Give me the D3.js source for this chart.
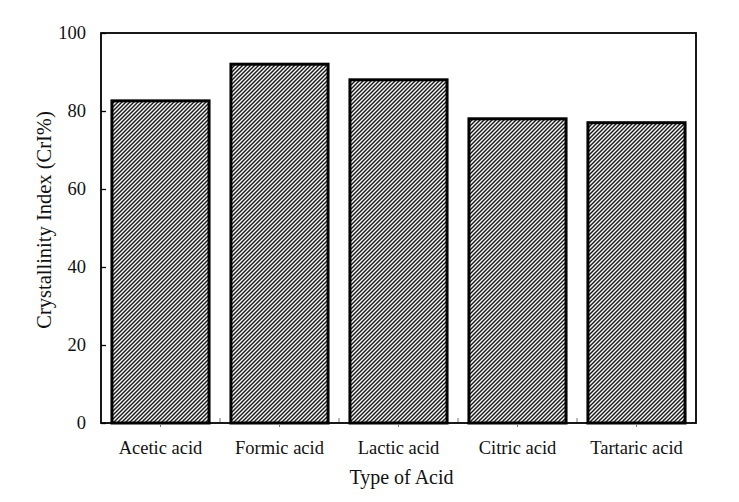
<!DOCTYPE html>
<html>
<head>
<meta charset="utf-8">
<script src="https://cdn.jsdelivr.net/npm/d3@7/dist/d3.min.js"></script>
<style>
  body { margin: 0; background: #fff; }
  svg text { font-family: "Liberation Serif", "Times New Roman", serif; fill: #111; }
</style>
</head>
<body>
<div id="chart"></div>
<script>
// data
const acids = ['Acetic acid', 'Formic acid', 'Lactic acid', 'Citric acid', 'Tartaric acid'];
const cri = [82.6, 92, 88, 78, 77];
const yTicks = [0, 20, 40, 60, 80, 100];

// graph constants
const w = 739;
const h = 502;
const plotL = 101, plotR = 696, plotT = 33, plotB = 423;

const svg = d3.select('#chart')
    .append('svg')
    .attr('width', w)
    .attr('height', h);

// hatch pattern for bars
const defs = svg.append('defs');
const pat = defs.append('pattern')
    .attr('id', 'hatch')
    .attr('patternUnits', 'userSpaceOnUse')
    .attr('width', 4)
    .attr('height', 4);
pat.append('rect').attr('width', 4).attr('height', 4).attr('fill', '#fafafa');
pat.append('path')
    .attr('d', 'M-1,1 l2,-2 M0,4 l4,-4 M3,5 l2,-2')
    .attr('stroke', '#1a1a1a')
    .attr('stroke-width', 1.45);

// scales
const xScale = d3.scaleBand()
    .domain(acids)
    .range([plotL, plotR])
    .paddingInner(0.184)
    .paddingOuter(0.092);
const yScale = d3.scaleLinear()
    .domain([0, 100])
    .range([plotB, plotT]);

// bars
svg.selectAll('rect.bar')
    .data(acids)
    .enter()
    .append('rect')
    .attr('class', 'bar')
    .attr('x', d => xScale(d))
    .attr('y', (d, i) => yScale(cri[i]))
    .attr('width', xScale.bandwidth())
    .attr('height', (d, i) => yScale(0) - yScale(cri[i]))
    .attr('fill', 'url(#hatch)')
    .attr('stroke', '#000')
    .attr('stroke-width', 3);

// y axis (ticks inward)
const yAxis = d3.axisLeft(yScale).tickValues(yTicks).tickSizeInner(-5).tickSizeOuter(0).tickPadding(15);
const gy = svg.append('g')
    .attr('transform', `translate(${plotL}, 0)`)
    .call(yAxis);
gy.select('.domain').remove();
gy.selectAll('.tick line').attr('stroke', '#000').attr('stroke-width', 1.3);
gy.selectAll('.tick text').attr('font-size', 18.5);

// x axis: labels at band centres
const xAxis = d3.axisBottom(xScale).tickSizeInner(4).tickSizeOuter(0).tickPadding(14);
const gx = svg.append('g')
    .attr('transform', `translate(0, ${plotB})`)
    .call(xAxis);
gx.select('.domain').remove();
gx.selectAll('.tick line').attr('stroke', '#777').attr('stroke-width', 1);
gx.selectAll('.tick text').attr('font-size', 18.5);

// boundary ticks between categories (inward)
const step = xScale.step();
svg.selectAll('line.bound')
    .data(acids.slice(1))
    .enter()
    .append('line')
    .attr('class', 'bound')
    .attr('x1', d => xScale(d) - step * xScale.paddingInner() / 2)
    .attr('x2', d => xScale(d) - step * xScale.paddingInner() / 2)
    .attr('y1', plotB)
    .attr('y2', plotB - 5)
    .attr('stroke', '#777')
    .attr('stroke-width', 1);

// frame
svg.append('rect')
    .attr('x', plotL)
    .attr('y', plotT)
    .attr('width', plotR - plotL)
    .attr('height', plotB - plotT)
    .attr('fill', 'none')
    .attr('stroke', '#000')
    .attr('stroke-width', 1.8);

// axis titles
svg.append('text')
    .attr('x', (plotL + plotR) / 2 + 3)
    .attr('y', 484)
    .attr('text-anchor', 'middle')
    .attr('font-size', 20)
    .text('Type of Acid');
svg.append('text')
    .attr('transform', `translate(51, 220) rotate(-90)`)
    .attr('text-anchor', 'middle')
    .attr('font-size', 20.5)
    .text('Crystallinity Index (CrI%)');
</script>
</body>
</html>
